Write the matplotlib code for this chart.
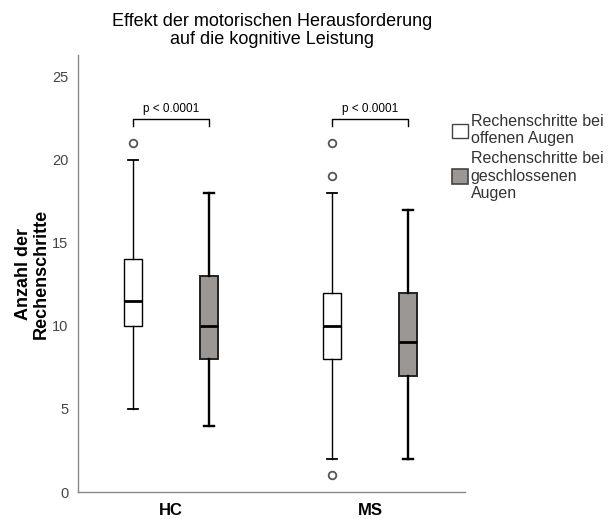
import matplotlib
matplotlib.use("Agg")
import matplotlib.pyplot as plt
from matplotlib.patches import Patch

plt.rcParams['font.family'] = ['Liberation Sans', 'DejaVu Sans']

groups = ["HC", "MS"]
series = ["Rechenschritte bei\noffenen Augen", "Rechenschritte bei\ngeschlossenen\nAugen"]
# five-number summaries: whislo, q1, med, q3, whishi
hc_open = [5, 10, 11.5, 14, 20]
hc_closed = [4, 8, 10, 13, 18]
ms_open = [2, 8, 10, 12, 18]
ms_closed = [2, 7, 9, 12, 17]
hc_open_out = [21]
ms_open_out = [21, 19, 1]
p_labels = ["p < 0.0001", "p < 0.0001"]

fill_closed = "#9b9795"


def stats(v, fl=()):
    return dict(whislo=v[0], q1=v[1], med=v[2], q3=v[3], whishi=v[4], fliers=list(fl))


fig = plt.figure(figsize=(6.11, 5.19), dpi=100)
ax = fig.add_axes([0.128, 0.052, 0.633, 0.842])

off = 0.19
w = 0.09
for i, (o, c, fo) in enumerate([(hc_open, hc_closed, hc_open_out),
                               (ms_open, ms_closed, ms_open_out)]):
    x = i + 1
    ax.bxp([stats(o, fo)], positions=[x - off], widths=w, patch_artist=True,
           boxprops=dict(facecolor="white", edgecolor="black", linewidth=1),
           medianprops=dict(color="black", linewidth=2),
           whiskerprops=dict(color="black", linewidth=1),
           capprops=dict(color="black", linewidth=1.3),
           flierprops=dict(marker="o", markerfacecolor="white", markeredgecolor="#555555",
                           markersize=5.5, markeredgewidth=1.3),
           capwidths=0.05)
    ax.bxp([stats(c)], positions=[x + off], widths=w, patch_artist=True,
           boxprops=dict(facecolor=fill_closed, edgecolor="#222222", linewidth=1.4),
           medianprops=dict(color="black", linewidth=2),
           whiskerprops=dict(color="black", linewidth=1.7),
           capprops=dict(color="black", linewidth=1.7),
           capwidths=0.05)
    # significance bracket
    yb, yt = 22.0, 22.45
    ax.plot([x - off, x - off, x + off, x + off], [yb, yt, yt, yb], color="black", lw=1)
    ax.text(x, yt + 0.25, p_labels[i], ha="center", va="bottom", fontsize=8.5)

ax.set_xlim(0.535, 2.475)
ax.set_ylim(0, 26.3)
ax.set_yticks([0, 5, 10, 15, 20, 25])
ax.set_xticks([1, 2])
ax.set_xticklabels(groups, fontsize=12, fontweight="bold")
ax.tick_params(axis="y", length=0, labelsize=10.5, labelcolor="#444444", pad=7)
ax.tick_params(axis="x", length=0, pad=8)
for s in ["top", "right"]:
    ax.spines[s].set_visible(False)
for s in ["left", "bottom"]:
    ax.spines[s].set_color("#888888")
    ax.spines[s].set_linewidth(1)
ax.set_ylabel("Anzahl der\nRechenschritte", fontsize=13, fontweight="bold", labelpad=2,
              linespacing=1.0)

fig.suptitle("Effekt der motorischen Herausforderung\nauf die kognitive Leistung",
             fontsize=13, y=0.975, x=0.445, linespacing=1.1, fontweight="medium")

handles = [Patch(facecolor="white", edgecolor="#444444", linewidth=1),
           Patch(facecolor=fill_closed, edgecolor="#444444", linewidth=1.2)]
fig.legend(handles, series, loc="upper left", bbox_to_anchor=(0.722, 0.802), frameon=False,
           fontsize=11.5, handlelength=1.0, handleheight=1.0, handletextpad=0.15,
           labelspacing=0.3, labelcolor="#333333", borderaxespad=0.3)

fig.savefig("out.png", dpi=100)
